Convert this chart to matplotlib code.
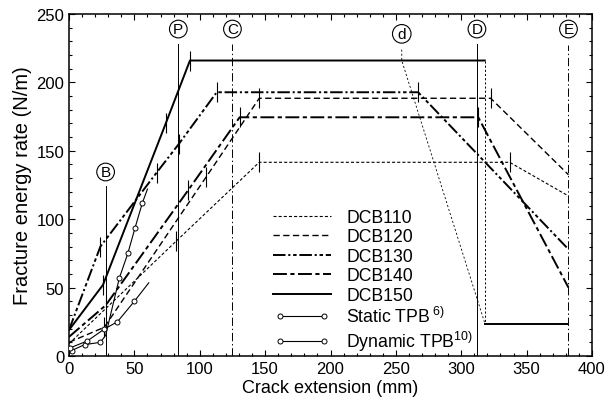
import matplotlib
matplotlib.use("Agg")
import matplotlib.pyplot as plt
from matplotlib.legend_handler import HandlerLine2D

plt.rcParams['font.family'] = ['Liberation Sans', 'DejaVu Sans']
plt.rcParams['mathtext.fontset'] = 'custom'
plt.rcParams['mathtext.rm'] = 'Liberation Sans'
plt.rcParams['mathtext.it'] = 'Liberation Sans'
plt.rcParams['lines.scale_dashes'] = False

# ---- DCB test curves (crack extension mm, fracture energy rate N/m) ----
dcb110_x = [0, 82, 145.5, 337, 382]
dcb110_y = [9, 84, 141.6, 141.6, 117]
dcb110_ticks = [1, 2, 3]

dcb120_x = [0, 27, 105, 145.5, 322.5, 382]
dcb120_y = [10, 21, 131, 188.4, 188.4, 132.5]
dcb120_ticks = [1, 2, 3, 4]

dcb130_x = [0, 24, 67, 84, 113, 267, 382]
dcb130_y = [19, 80, 134, 155, 192.8, 192.8, 78]
dcb130_ticks = [1, 2, 3, 4, 5]

dcb140_x = [0, 28, 91, 130.5, 313, 382]
dcb140_y = [14, 37, 121, 174.5, 174.5, 50]
dcb140_ticks = [1, 2, 3, 4]

dcb150_x = [0, 26, 74, 92.5, 318]
dcb150_y = [19, 52, 170, 216, 216]
dcb150_ticks = [1, 2, 3]
# arrest drop and residual level of DCB150
dcb150_drop_x = [318, 318]
dcb150_drop_y = [216, 23.5]
dcb150_tail_x = [318, 382]
dcb150_tail_y = [23.5, 23.5]

# ---- TPB results ----
static_x = [2, 12, 24, 28, 38.5, 45, 50.5, 56, 60]
static_y = [4, 8.3, 10, 15, 57, 75, 93.6, 111.6, 122]
static_marks = [0, 1, 2, 4, 5, 6, 7]

dynamic_x = [1, 14, 27, 37, 50, 61]
dynamic_y = [6, 11, 19.7, 25, 40, 53.5]
dynamic_marks = [0, 1, 2, 3, 4]

# ---- characteristic positions ----
ref_labels = ['B', 'P', 'C', 'D', 'E']
ref_x = [28, 83.6, 125, 312, 382]
ref_top = [124.5, 228, 228, 228, 227]
ref_label_y = [134.5, 239, 239, 239, 239]
ref_styles = ['solid', 'solid', 'dashdot', 'solid', 'dashdot']

d_x = [254.5, 254.5, 318]
d_y = [224, 216, 24]
d_label_y = 235.5

fig = plt.figure(figsize=(6.07, 4.10), dpi=100)
ax = fig.add_axes([69 / 607, 1 - 357 / 410, (592 - 69) / 607, (357 - 15) / 410])

ax.set_xlim(0, 400)
ax.set_ylim(0, 250)

dash_dot_thin = (0, (6, 2, 1, 2))
for lab, xv, top, ly, ls in zip(ref_labels, ref_x, ref_top, ref_label_y, ref_styles):
    style = dash_dot_thin if ls == 'dashdot' else '-'
    ax.plot([xv, xv], [0, top], color='black', lw=0.7, linestyle=style, zorder=2)
    ax.text(xv, ly, lab, ha='center', va='center', fontsize=11,
            bbox=dict(boxstyle='circle,pad=0.12', fc='white', ec='black', lw=0.8))

ax.plot(d_x, d_y, color='black', lw=0.6, linestyle=(0, (1.5, 1.5)), zorder=2)
ax.text(d_x[0], d_label_y, 'd', ha='center', va='center', fontsize=11,
        bbox=dict(boxstyle='circle,pad=0.15', fc='white', ec='black', lw=0.8))

series = [
    ('DCB110', dcb110_x, dcb110_y, dcb110_ticks, 0.8, (0, (2.2, 1.5))),
    ('DCB120', dcb120_x, dcb120_y, dcb120_ticks, 1.0, (0, (4.5, 2.5))),
    ('DCB130', dcb130_x, dcb130_y, dcb130_ticks, 1.4, (0, (9, 2, 1.5, 2, 2.5, 2))),
    ('DCB140', dcb140_x, dcb140_y, dcb140_ticks, 1.4, (0, (10, 2.5, 3, 2.5))),
    ('DCB150', dcb150_x, dcb150_y, dcb150_ticks, 1.4, '-'),
]

handles = []
for name, xs, ys, ticks, lw, ls in series:
    h, = ax.plot(xs, ys, color='black', lw=lw, linestyle=ls, label=name, zorder=3)
    handles.append(h)
    ax.plot([xs[i] for i in ticks], [ys[i] for i in ticks], linestyle='none',
            marker='|', markersize=14, markeredgewidth=0.8, color='black', zorder=3)

ax.plot(dcb150_drop_x, dcb150_drop_y, color='black', lw=0.7,
        linestyle=(0, (1.5, 1.5)), zorder=3)
ax.plot(dcb150_tail_x, dcb150_tail_y, color='black', lw=1.4, zorder=3)

h_static, = ax.plot(static_x, static_y, color='black', lw=0.8, marker='o',
                    markersize=3.6, markerfacecolor='white', markeredgewidth=0.7,
                    markevery=static_marks, label='Static TPB$^{\\ 6)}$', zorder=4)
h_dyn, = ax.plot(dynamic_x, dynamic_y, color='black', lw=0.8, marker='o',
                 markersize=3.6, markerfacecolor='white', markeredgewidth=0.7,
                 markevery=dynamic_marks, label='Dynamic TPB$^{10)}$', zorder=4)
handles += [h_static, h_dyn]

leg = ax.legend(handles=handles, loc='upper left', bbox_to_anchor=(0.39, 0.43),
                frameon=False, fontsize=12.7, handlelength=3.3, handletextpad=0.85,
                labelspacing=0.14, borderpad=0, borderaxespad=0,
                handler_map={h_static: HandlerLine2D(numpoints=2, marker_pad=0.4),
                             h_dyn: HandlerLine2D(numpoints=2, marker_pad=0.4)})

ax.set_xticks(range(0, 401, 50))
ax.set_yticks(range(0, 251, 50))
ax.set_xticks(range(0, 401, 10), minor=True)
ax.set_yticks(range(0, 251, 10), minor=True)
ax.tick_params(which='both', direction='in', top=True, right=True, labelsize=12,
               width=0.8)
ax.tick_params(which='major', length=4)
ax.tick_params(which='minor', length=2)
for sp in ax.spines.values():
    sp.set_linewidth(1.1)

ax.set_xlabel('Crack extension (mm)', fontsize=13, labelpad=2)
ax.set_ylabel('Fracture energy rate (N/m)', fontsize=14.5, labelpad=3)

fig.savefig('out.png', dpi=100)
